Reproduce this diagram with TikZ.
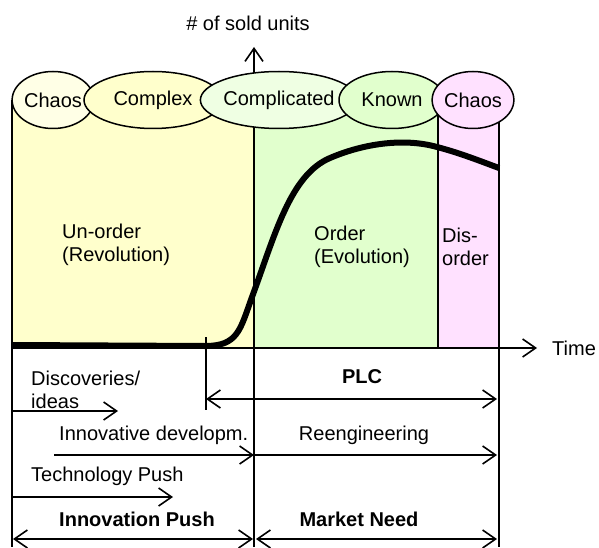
\documentclass[tikz,border=0pt]{standalone}
\usepackage{fontspec}
\setmainfont{Liberation Sans}
\usetikzlibrary{arrows.meta,shapes.geometric,positioning}
\definecolor{unorder}{HTML}{FFFFCC}
\definecolor{chaoslight}{HTML}{FFFFE6}
\definecolor{order}{HTML}{E1FFCD}
\definecolor{complicated}{HTML}{EFFFE3}
\definecolor{disorder}{HTML}{FFE1FF}

\begin{document}
\begin{tikzpicture}[x=1pt, y=-1pt, font=\fontsize{20}{23}\selectfont]
\tikzstyle{phase}=[ellipse, draw=black, line width=1.5pt, minimum height=57pt, inner sep=0pt]
\tikzstyle{border}=[line width=1.5pt]
\tikzstyle{connect}=[-{Straight Barb[length=13pt,width=18pt]}, line width=1.6pt]
\tikzstyle{both}=[connect, {Straight Barb[length=13pt,width=18pt]}-{Straight Barb[length=13pt,width=18pt]}]
\tikzstyle{txt}=[inner sep=0pt, align=left]
\tikzstyle{title}=[txt, font=\fontsize{20}{23}\selectfont\bfseries]
\tikzstyle{sales}=[line width=6pt, line join=round]

  \useasboundingbox (0,0) rectangle (599,548);

  \fill[unorder]  (12,100)  rectangle (254,348);
  \fill[order]    (254,100) rectangle (438,348);
  \fill[disorder] (438,100) rectangle (499,348);

  \coordinate (origin) at (254,547);
  \coordinate (ytop)   at (254,47);
  \coordinate (tstart) at (12,348);
  \coordinate (tend)   at (537,348);

  \draw[border] (12,100)  -- (12,547);
  \draw[border] (438,100) -- (438,348);
  \draw[border] (499,100) -- (499,547);
  \path (origin) edge [connect] (ytop);
  \path (tstart) edge [connect] (tend);

  \node[txt] (units) at (248,23)             {\# of sold units};
  \node[txt, anchor=west] (time) at (552,348) {Time};

  \node[phase, fill=chaoslight,  minimum width=81pt]  (chaosA)      at (53,100)  {Chaos};
  \node[phase, fill=unorder,     minimum width=138pt] (complex)     at (153,100) {Complex};
  \node[phase, fill=complicated, minimum width=136pt] (complicated) at (279,100) {Complicated};
  \node[phase, fill=order,       minimum width=106pt] (known)       at (392,100) {Known};
  \node[phase, fill=disorder,    minimum width=71pt]  (chaosB)      at (473,100) {Chaos};

  \node[txt, anchor=west] (unorder)  at (62,245)  {Un-order\\(Revolution)};
  \node[txt, anchor=west] (order)    at (314,247) {Order\\(Evolution)};
  \node[txt, anchor=west] (disorder) at (442,247) {Dis-\\order};

  \draw[sales] (12,345) -- (205,346)
    .. controls (238,346) and (240,330) .. (252,297)
    .. controls (275,235) and (290,175) .. (330,158)
    .. controls (365,143) and (405,138) .. (437,147)
    .. controls (460,153) and (480,161) .. (499,168);

  \coordinate (tick)   at (206,337);
  \coordinate (tickb)  at (206,410);
  \draw[border] (tick) -- (tickb);

  \node[txt, anchor=west] (disc)   at (31,390)  {Discoveries/\\ideas};
  \coordinate (discL)  at (12,411);
  \coordinate (discR)  at (118,411);
  \path (discL) edge [connect] (discR);

  \node[title] (plc) at (362,377) {PLC};
  \coordinate (plcL)   at (206,399);
  \coordinate (plcR)   at (497,399);
  \path (plcL) edge [both] (plcR);

  \node[txt, anchor=west] (devel)  at (59,435)  {Innovative developm.};
  \node[txt] (reeng) at (364,435) {Reengineering};
  \coordinate (develL) at (54,455);
  \coordinate (develR) at (254,455);
  \coordinate (reengR) at (497,455);
  \path (develL) edge [connect] (develR);
  \path (develR) edge [connect] (reengR);

  \node[txt, anchor=west] (tech)   at (31,476)  {Technology Push};
  \coordinate (techL)  at (12,497);
  \coordinate (techR)  at (173,497);
  \path (techL) edge [connect] (techR);

  \node[title] (ipush)  at (137,519) {Innovation Push};
  \node[title] (market) at (359,519) {Market Need};
  \coordinate (ipushL)  at (13,539);
  \coordinate (ipushR)  at (253,539);
  \coordinate (marketL) at (256,539);
  \coordinate (marketR) at (497,539);
  \path (ipushL)  edge [both] (ipushR);
  \path (marketL) edge [both] (marketR);

\end{tikzpicture}
\end{document}
